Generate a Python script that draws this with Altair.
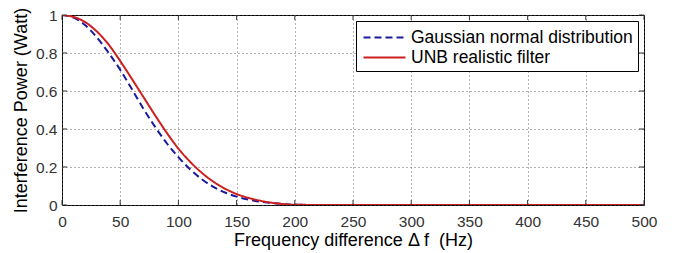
import altair as alt
import pandas as pd

freq = [0, 10, 20, 30, 40, 50, 60, 70, 80, 90, 100, 110, 120, 130, 140, 150,
        160, 170, 180, 190, 200, 250, 300, 350, 400, 450, 500]
gaussian = [1.0, 0.986, 0.946, 0.882, 0.801, 0.712, 0.61, 0.506, 0.411, 0.325,
            0.252, 0.188, 0.136, 0.096, 0.066, 0.044, 0.029, 0.018, 0.011, 0.005,
            0.001, 0.0, 0.0, 0.0, 0.0, 0.0, 0.0]
unb = [1.0, 0.99, 0.962, 0.913, 0.845, 0.758, 0.664, 0.568, 0.472, 0.38,
       0.297, 0.228, 0.17, 0.123, 0.086, 0.058, 0.038, 0.023, 0.012, 0.005,
       0.001, 0.0, 0.0, 0.0, 0.0, 0.0, 0.0]
series_names = ["Gaussian normal distribution", "UNB realistic filter"]
x_ticks = [0, 50, 100, 150, 200, 250, 300, 350, 400, 450, 500]
y_ticks = [0, 0.2, 0.4, 0.6, 0.8, 1.0]

rows = []
for f, v in zip(freq, gaussian):
    rows.append({"f": f, "p": v, "s": series_names[0]})
for f, v in zip(freq, unb):
    rows.append({"f": f, "p": v, "s": series_names[1]})
df = pd.DataFrame(rows)
xt = pd.DataFrame({"t": x_ticks})
yt = pd.DataFrame({"t": y_ticks})

FONT = "Liberation Sans"
xscale = alt.Scale(domain=[0, 500], nice=False)
yscale = alt.Scale(domain=[0, 1], nice=False)
x_axis = alt.Axis(values=x_ticks, title="Frequency difference Δ f\u00a0 (Hz)",
                  titleY=35, titleBaseline="middle",
                  labelPadding=9, ticks=False, labelFlush=False)
y_axis = alt.Axis(values=y_ticks, format="~g", title="Interference Power (Watt)",
                  titleX=-41, titleY=95, titleAngle=-90, titleAlign="center",
                  titleBaseline="middle", labelPadding=5, ticks=False,
                  labelOverlap=False, labelFlush=False)

lines = alt.Chart(df).mark_line(strokeWidth=2, clip=True, interpolate="monotone").encode(
    x=alt.X("f:Q", scale=xscale, axis=x_axis),
    y=alt.Y("p:Q", scale=yscale, axis=y_axis),
    color=alt.Color("s:N", scale=alt.Scale(domain=series_names, range=["#1a1a9e", "#cc1f1f"]),
                    legend=alt.Legend(title=None, orient="top-right", offset=6)),
    strokeDash=alt.StrokeDash("s:N", scale=alt.Scale(domain=series_names, range=[[7, 4], [1, 0]]),
                              legend=alt.Legend(title=None, orient="top-right", offset=6)),
)

tick_color = "#333333"
xb = alt.Chart(xt).mark_rule(color=tick_color, strokeWidth=1).encode(
    x=alt.X("t:Q", scale=xscale, axis=x_axis), y=alt.datum(0, scale=yscale, axis=y_axis), y2=alt.datum(0.026))
xtop = alt.Chart(xt).mark_rule(color=tick_color, strokeWidth=1).encode(
    x=alt.X("t:Q", scale=xscale, axis=x_axis), y=alt.datum(1, scale=yscale, axis=y_axis), y2=alt.datum(0.974))
yl = alt.Chart(yt).mark_rule(color=tick_color, strokeWidth=1).encode(
    y=alt.Y("t:Q", scale=yscale, axis=y_axis), x=alt.datum(0, scale=xscale, axis=x_axis), x2=alt.datum(4.3))
yr = alt.Chart(yt).mark_rule(color=tick_color, strokeWidth=1).encode(
    y=alt.Y("t:Q", scale=yscale, axis=y_axis), x=alt.datum(500, scale=xscale, axis=x_axis), x2=alt.datum(495.7))

chart = alt.layer(lines, xb, xtop, yl, yr).properties(
    width=582, height=190,
    padding={"left": 54, "top": 7, "right": 20, "bottom": 45},
    autosize=alt.AutoSizeParams(type="none"),
).configure_view(
    stroke="black", strokeWidth=1
).configure_axis(
    grid=True, gridDash=[1, 3], gridColor="#555555", gridOpacity=0.9,
    domain=False,
    labelFont=FONT, labelFontSize=15.5, labelColor="#333333",
    titleFont=FONT, titleFontSize=18, titleFontWeight="normal", titleColor="black",
).configure_legend(
    labelFont=FONT, labelFontSize=17.5, labelColor="black", labelLimit=400,
    strokeColor="black", fillColor="white", padding=5, cornerRadius=0,
    symbolType="M-2,0L2,0", symbolSize=441, symbolStrokeWidth=2, symbolOffset=12,
    rowPadding=0, labelOffset=15,
)

chart.save("out.html", embed_options={"renderer": "svg", "actions": False})
